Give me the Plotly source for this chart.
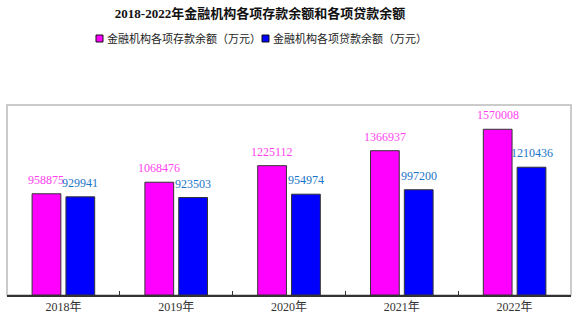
import plotly.graph_objects as go

years = ["2018年", "2019年", "2020年", "2021年", "2022年"]
deposits = [958875, 1068476, 1225112, 1366937, 1570008]
loans = [929941, 923503, 954974, 997200, 1210436]
name_dep = "金融机构各项存款余额（万元）"
name_loan = "金融机构各项贷款余额（万元）"
title = "2018-2022年金融机构各项存款余额和各项贷款余额"

serif = "Liberation Serif, DejaVu Serif, Noto Sans CJK SC, serif"
sans = "Noto Sans CJK SC, Noto Sans, sans-serif"
dep_color = "#FF00FF"
loan_color = "#0000FF"
dep_label_color = "#FF44EE"
loan_label_color = "#1A75C8"

W, H = 581, 325
ML, MR, MT, MB = 7, 10, 105, 30
PW, PH = W - ML - MR, H - MT - MB


def px(x):
    return (x - ML) / PW


def py(y):
    return (H - MB - y) / PH


fig = go.Figure()
fig.add_trace(go.Bar(
    x=years, y=deposits, name=name_dep,
    marker=dict(color=dep_color, line=dict(color="#333333", width=1)),
))
fig.add_trace(go.Bar(
    x=years, y=loans, name=name_loan,
    marker=dict(color=loan_color, line=dict(color="#333333", width=1)),
))

# value labels, anchored on data through the axes
for vals, color, shift in [(deposits, dep_label_color, -17), (loans, loan_label_color, 17)]:
    for yr, v in zip(years, vals):
        fig.add_annotation(x=yr, y=v, xref="x", yref="y", text=str(v), showarrow=False,
                           xanchor="center", yanchor="bottom", xshift=shift, yshift=5,
                           font=dict(family=serif, size=12, color=color))

fig.update_layout(
    width=W, height=H,
    margin=dict(l=ML, r=MR, t=MT, b=MB),
    paper_bgcolor="white", plot_bgcolor="white",
    barmode="group", bargap=0.4, bargroupgap=0.15,
    title=dict(text="<b>" + title + "</b>", x=px(260), xref="paper", xanchor="center",
               y=1 - 13 / H, yanchor="middle",
               font=dict(family=serif, size=13, color="#111111")),
    showlegend=False,
    xaxis=dict(showline=True, linecolor="#333333", linewidth=1.5, ticks="inside",
               tickson="boundaries", ticklen=4, tickcolor="#333333",
               tickfont=dict(family=serif, size=12, color="#333333"),
               showgrid=False, fixedrange=True),
    yaxis=dict(range=[0, 1800000], visible=False, showgrid=False),
)
# plot frame
fig.add_shape(type="rect", xref="paper", yref="paper", x0=0, x1=1, y0=0, y1=1,
              line=dict(color="#BBBBBB", width=1.5), layer="below")

# custom legend (marker square + text)
legend_items = [(name_dep, dep_color, 96), (name_loan, loan_color, 262)]
for name, color, x0 in legend_items:
    fig.add_shape(type="rect", xref="paper", yref="paper",
                  x0=px(x0), x1=px(x0 + 7), y0=py(42), y1=py(35),
                  fillcolor=color, line=dict(color="#111111", width=1))
    fig.add_annotation(text=name, xref="paper", yref="paper", x=px(x0 + 9), y=py(38.5),
                       xanchor="left", yanchor="middle", showarrow=False,
                       font=dict(family=sans, size=11, color="#222222"))

fig.write_html("out.html")
